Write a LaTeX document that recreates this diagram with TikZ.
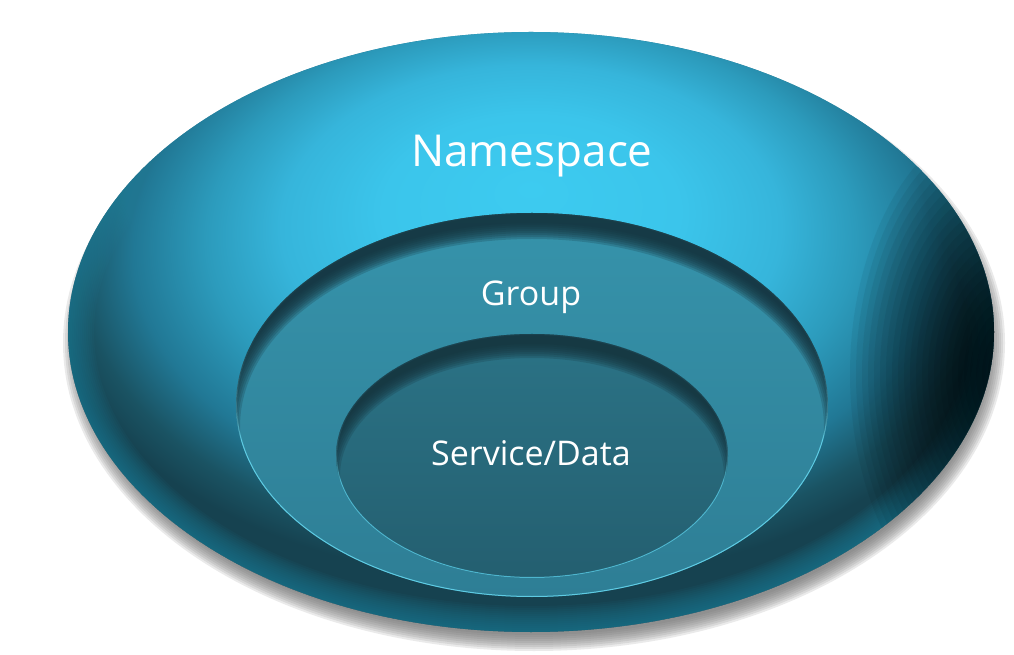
\documentclass[tikz,border=0pt]{standalone}
\usepackage{fontspec}
\setmainfont{Open Sans}
\usepackage{tikz}
\usetikzlibrary{calc}
\definecolor{nsA}{HTML}{3DCBF0}
\definecolor{nsB}{HTML}{3BC5EB}
\definecolor{nsC}{HTML}{36B5DB}
\definecolor{nsD}{HTML}{2C9BBC}
\definecolor{nsE}{HTML}{217895}
\definecolor{nsF}{HTML}{1A5363}
\definecolor{nsG}{HTML}{164250}
\definecolor{shadowGray}{HTML}{6A6A6A}
\definecolor{rimLight}{HTML}{23849F}
\definecolor{grpTop}{HTML}{3693AB}
\definecolor{grpBot}{HTML}{2E7E95}
\definecolor{svcTop}{HTML}{2B7386}
\definecolor{svcBot}{HTML}{245F70}
\definecolor{grpRim}{HTML}{5ECBE3}
\definecolor{svcRim}{HTML}{4DB5CE}
\definecolor{insetDark}{HTML}{15323C}
\pgfdeclareradialshading{nsdome}{\pgfpoint{0bp}{12bp}}{color(0bp)=(nsA); color(8bp)=(nsB);
  color(13.5bp)=(nsC); color(17.5bp)=(nsD); color(21.5bp)=(nsE); color(24.5bp)=(nsF);
  color(26.5bp)=(nsG); color(50bp)=(nsG)}
\tikzset{
  ring/shadow/.style={fill=shadowGray, opacity=0.14},
  ring/rimlight/.style={draw=rimLight, opacity=0.07, blend mode=lighten},
  ring/dark/.style={fill=black, opacity=0.055},
  ring/inset/.style={fill=insetDark, opacity=0.22, even odd rule},
  ring/label/.style={text=white, inner sep=0pt, anchor=base, font=\fontsize{25.5}{30}\selectfont}
}
\begin{document}
\begin{tikzpicture}[x=0.75pt,y=0.75pt]
\useasboundingbox (0,0) rectangle (1014,654);
% drop shadow under the namespace disc
\foreach \d in {-8,-6,...,8}
  \fill[ring/shadow] (534,311) ellipse [x radius=463+\d, y radius=300+\d];
% namespace disc
\shade[shading=nsdome] (531,322) ellipse [x radius=463, y radius=300];
\begin{scope}
  \clip (531,322) ellipse [x radius=463, y radius=300];
  \foreach \w in {4,8,...,52}
    \draw[ring/rimlight, line width=\w*0.75pt] (531,322) ellipse [x radius=463, y radius=300];
  \foreach \r in {6,12,...,162}
    \fill[ring/dark] (1012,280) ellipse [x radius=\r, y radius=1.6*\r];
\end{scope}
% group
\shade[top color=grpTop, bottom color=grpBot] (532,249) ellipse [x radius=296, y radius=192];
\begin{scope}
  \clip (532,249) ellipse [x radius=296, y radius=192];
  \draw[grpRim, line width=1.5pt] (532,249) ellipse [x radius=296, y radius=192];
  \foreach \d in {-4,-2,...,12}
    \fill[ring/inset] (200,20) rectangle (870,460) (532,227) ellipse [x radius=296+\d, y radius=192+\d];
\end{scope}
% service/data
\shade[top color=svcTop, bottom color=svcBot] (532,198) ellipse [x radius=196, y radius=122];
\begin{scope}
  \clip (532,198) ellipse [x radius=196, y radius=122];
  \draw[svcRim, line width=1.5pt] (532,198) ellipse [x radius=196, y radius=122];
  \foreach \d in {-4,-2,...,10}
    \fill[ring/inset] (300,40) rectangle (770,340) (532,178) ellipse [x radius=196+\d, y radius=122+\d];
\end{scope}
\node[ring/label, font=\fontsize{33}{40}\selectfont] (ns) at (532,487) {Namespace};
\node[ring/label] (grp) at (531,348) {Group};
\node[ring/label] (svc) at (531,189) {Service/Data};
\end{tikzpicture}
\end{document}
